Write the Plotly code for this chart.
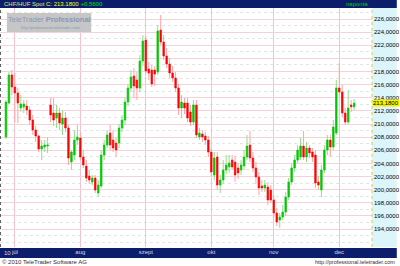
import plotly.graph_objects as go
import pandas as pd

# ---- data (CHF/HUF daily spot) ----
START_DATE = "2010-06-28"
END_DATE = "2010-12-08"
dates = pd.bdate_range(START_DATE, END_DATE)

open_ = [208.02, 213.20, 217.47, 215.64, 214.73, 212.44, 212.59, 212.74, 212.13, 210.61,
         209.09, 208.17, 206.19, 206.50, 206.65, 212.90, 211.68, 210.91, 211.68, 209.99,
         210.91, 209.39, 204.21, 205.28, 207.56, 207.87, 204.97, 203.60, 202.08, 201.16,
         201.77, 199.49, 200.55, 205.28, 206.80, 208.63, 207.56, 207.10, 207.10, 209.39,
         210.61, 213.35, 215.49, 217.31, 216.70, 215.49, 219.60, 222.80, 218.38, 218.23,
         218.23, 217.92, 224.32, 222.50, 220.36, 219.14, 217.77, 217.01, 215.49, 212.44,
         213.20, 213.20, 211.83, 210.30, 212.90, 208.02, 208.48, 208.17, 207.56, 205.73,
         202.23, 204.97, 200.70, 201.47, 202.99, 203.45, 204.51, 204.21, 203.30, 202.99,
         203.60, 204.97, 206.80, 204.82, 203.30, 201.93, 200.55, 200.25, 200.40, 199.94,
         198.42, 196.43, 195.37, 195.83, 196.59, 198.87, 201.16, 203.30, 204.51, 204.97,
         206.65, 204.97, 206.34, 205.73, 205.28, 201.16, 199.94, 202.99, 206.04, 207.56,
         206.50, 208.63, 215.49, 214.88, 211.68, 210.30, 212.90, 212.62]
high = [213.66, 217.92, 218.23, 217.77, 215.49, 214.42, 213.66, 213.66, 212.74, 211.37,
        209.70, 208.32, 207.56, 207.56, 208.02, 213.97, 213.97, 212.90, 212.44, 212.13,
        211.83, 209.85, 206.04, 209.09, 209.85, 208.78, 206.04, 204.51, 202.99, 202.23,
        202.23, 201.47, 206.04, 207.56, 209.09, 209.85, 209.09, 207.87, 210.00, 211.37,
        213.97, 216.10, 218.23, 218.53, 217.92, 220.51, 223.56, 223.41, 219.45, 218.99,
        218.84, 225.09, 226.61, 223.56, 221.58, 220.06, 218.84, 217.92, 216.10, 214.42,
        213.97, 213.97, 212.90, 213.66, 213.66, 209.39, 209.09, 208.78, 208.17, 206.34,
        205.73, 205.73, 202.23, 204.51, 205.28, 205.28, 205.28, 205.13, 204.06, 204.51,
        206.04, 208.32, 208.93, 205.73, 204.21, 202.69, 201.47, 201.47, 201.16, 200.70,
        199.18, 197.20, 196.43, 197.66, 199.64, 201.77, 203.91, 205.28, 206.80, 207.87,
        208.93, 207.26, 206.80, 206.34, 206.04, 202.08, 203.75, 206.80, 208.32, 208.32,
        210.61, 216.70, 219.30, 215.94, 212.44, 215.18, 213.66, 213.81]
low = [207.71, 213.05, 214.42, 210.30, 210.15, 211.83, 211.68, 211.37, 209.85, 208.32,
       207.26, 205.73, 204.51, 205.73, 205.58, 210.30, 209.70, 209.39, 209.09, 208.32,
       208.78, 203.75, 202.99, 204.51, 206.80, 204.51, 203.30, 201.16, 200.86, 200.70,
       199.49, 198.87, 200.25, 204.51, 206.34, 206.04, 205.73, 204.97, 206.34, 208.78,
       209.85, 212.74, 214.88, 213.97, 213.66, 214.88, 218.84, 217.62, 216.70, 215.64,
       215.79, 217.47, 222.04, 219.75, 218.53, 217.01, 216.40, 214.88, 211.37, 210.91,
       211.52, 210.30, 209.70, 209.85, 207.87, 207.56, 207.26, 206.80, 204.97, 202.08,
       201.47, 199.94, 199.49, 200.86, 202.38, 202.58, 202.99, 201.16, 201.62, 202.23,
       202.99, 204.51, 204.21, 202.69, 200.86, 199.18, 199.64, 199.64, 197.66, 197.96,
       195.67, 194.46, 194.15, 195.37, 196.02, 198.42, 200.70, 202.69, 204.06, 204.51,
       204.51, 204.21, 204.82, 204.21, 200.25, 199.94, 198.87, 202.53, 205.28, 204.97,
       206.04, 208.32, 214.42, 211.07, 209.85, 210.00, 211.83, 212.13]
close = [213.35, 217.47, 215.64, 214.73, 213.20, 213.05, 213.05, 212.13, 210.61, 209.09,
         208.17, 206.19, 206.65, 206.80, 206.80, 211.37, 210.61, 211.68, 210.15, 210.91,
         209.39, 204.82, 205.73, 207.56, 208.02, 204.97, 203.75, 201.77, 201.47, 201.77,
         199.94, 200.70, 205.28, 206.80, 208.32, 206.80, 206.34, 206.04, 209.39, 210.61,
         213.35, 215.49, 217.16, 215.79, 215.49, 219.60, 222.65, 218.08, 217.77, 216.10,
         217.62, 224.17, 222.50, 220.36, 219.14, 217.77, 217.01, 215.49, 212.44, 213.35,
         212.44, 210.91, 210.30, 212.90, 208.32, 208.63, 208.02, 207.56, 205.73, 202.69,
         204.82, 200.70, 201.47, 202.99, 203.75, 204.06, 203.45, 202.23, 202.54, 203.75,
         204.97, 206.65, 204.82, 203.30, 201.93, 200.25, 200.25, 200.70, 198.42, 198.42,
         196.43, 195.06, 195.83, 196.59, 198.87, 201.16, 203.30, 204.51, 206.04, 206.65,
         204.97, 206.34, 205.58, 204.97, 201.01, 200.70, 202.99, 206.04, 207.56, 206.50,
         209.54, 215.49, 214.88, 211.68, 210.30, 212.44, 212.62, 213.18]

month_ticks = ["2010-07-01", "2010-08-02", "2010-09-01", "2010-10-01", "2010-11-01", "2010-12-01"]
month_labels = ["júl", "aug", "szept", "okt", "nov", "dec"]
y_ticks = list(range(194, 227, 2))
last_close = close[-1]
change = 0.56

# ---- layout geometry ----
W, H = 400, 266
L, R, T, B = 0, 25, 8, 19
PW, PH = W - L - R, H - T - B

def px(x):
    return (x - L) / PW

def py(y):
    return 1 - (y - T) / PH

NAVY = "#0b1d6b"
GREEN = "#00c800"
RED = "#ff0000"
GREEN_L = "#8fe08f"
RED_L = "#ffa4a4"

body_hi = [max(o, c) for o, c in zip(open_, close)]
body_lo = [min(o, c) for o, c in zip(open_, close)]

fig = go.Figure()
# wicks (pale)
fig.add_trace(go.Candlestick(
    x=dates, open=open_, high=high, low=low, close=close,
    increasing=dict(line=dict(color=GREEN_L, width=1), fillcolor=GREEN_L),
    decreasing=dict(line=dict(color=RED_L, width=1), fillcolor=RED_L),
    whiskerwidth=0, hoverinfo="skip", showlegend=False))
# bodies (bright)
fig.add_trace(go.Candlestick(
    x=dates, open=open_, high=body_hi, low=body_lo, close=close,
    increasing=dict(line=dict(color=GREEN, width=0.5), fillcolor=GREEN),
    decreasing=dict(line=dict(color=RED, width=0.5), fillcolor=RED),
    whiskerwidth=0, showlegend=False))

shapes = [
    # title band
    dict(type="rect", xref="paper", yref="paper", x0=px(0), x1=px(W), y0=py(T), y1=py(0),
         fillcolor=NAVY, line=dict(width=0), layer="below"),
    # right axis panel
    dict(type="rect", xref="paper", yref="paper", x0=1, x1=px(W), y0=0, y1=1,
         fillcolor="#dcf5fb", line=dict(width=0), layer="below"),
    # x-axis band
    dict(type="rect", xref="paper", yref="paper", x0=px(0), x1=px(W), y0=py(258), y1=py(248),
         fillcolor=NAVY, line=dict(width=0), layer="below"),
    # yellow separator
    dict(type="line", xref="paper", yref="paper", x0=1, x1=1, y0=0, y1=1,
         line=dict(color="#e6c830", width=1, dash="dot")),
    # left dotted edge
    dict(type="line", xref="paper", yref="paper", x0=px(0.5), x1=px(0.5), y0=0, y1=1,
         line=dict(color="#606060", width=1, dash="dot")),
    # watermark box
    dict(type="rect", xref="paper", yref="paper", x0=px(7), x1=px(92), y0=py(32), y1=py(13),
         fillcolor="#c6c6c6", line=dict(width=0), layer="above"),
]

FONT = "Liberation Sans, Arial, sans-serif"
annotations = [
    dict(xref="paper", yref="paper", x=px(2), y=py(4), xanchor="left", yanchor="middle",
         showarrow=False, font=dict(family=FONT, size=6),
         text=("<span style='color:#e8e870'>CHF/HUF Spot</span> "
               f"<span style='color:#ffff00'>C: {last_close:.4f}</span> "
               f"<span style='color:#00e000'>+{change:.4f}</span>")),
    dict(xref="paper", yref="paper", x=px(373), y=py(4), xanchor="right", yanchor="middle",
         showarrow=False, font=dict(family=FONT, size=6, color="#00d000"), text="naponta"),
    dict(xref="paper", yref="paper", x=px(49.5), y=py(19.5), xanchor="center", yanchor="middle",
         showarrow=False, font=dict(family=FONT, size=7.5, color="#8797b8"),
         text="TeleTrader <b>Professional</b>"),
    dict(xref="paper", yref="paper", x=px(51), y=py(27.5), xanchor="center", yanchor="middle",
         showarrow=False, font=dict(family=FONT, size=4, color="#8797b8"),
         text="http://professional.teletrader.com/"),
    dict(xref="paper", yref="paper", x=px(2), y=py(253), xanchor="left", yanchor="middle",
         showarrow=False, font=dict(family=FONT, size=6, color="#d8d8e0"), text="10"),
    dict(xref="paper", yref="paper", x=px(0), y=py(262), xanchor="left", yanchor="middle",
         showarrow=False, font=dict(family=FONT, size=6, color="#303030"),
         text="© 2010 TeleTrader Software AG"),
    dict(xref="paper", yref="paper", x=px(400), y=py(262), xanchor="right", yanchor="middle",
         showarrow=False, font=dict(family=FONT, size=5.5, color="#303030"),
         text="http://professional.teletrader.com"),
    dict(xref="paper", yref="y", x=1, y=last_close, xanchor="left", yanchor="middle",
         showarrow=False, font=dict(family=FONT, size=6, color="#000000"),
         bgcolor="#f4f000", borderpad=0,
         text=f"{last_close:.4f}".replace(".", ",")),
]

fig.update_layout(
    width=W, height=H,
    margin=dict(l=L, r=R, t=T, b=B, pad=0),
    paper_bgcolor="white", plot_bgcolor="white",
    separators=", ",
    shapes=shapes, annotations=annotations,
    showlegend=False,
    xaxis=dict(
        type="date",
        range=["2010-06-24", "2010-12-16"],
        rangebreaks=[dict(bounds=["sat", "mon"])],
        rangeslider=dict(visible=False),
        tickvals=month_ticks, ticktext=month_labels,
        tickfont=dict(family=FONT, size=6, color="#d8d8e0"),
        ticks="", showgrid=True, gridcolor="#f2c4cf", gridwidth=1,
        zeroline=False, showline=False, fixedrange=True,
    ),
    yaxis=dict(
        side="right", range=[191.26, 227.68],
        tickvals=y_ticks, tickformat=".4f",
        tickfont=dict(family=FONT, size=6, color="#000000"),
        ticks="", ticklabelstandoff=1,
        showgrid=True, gridcolor="#f4d2da", gridwidth=1,
        minor=dict(dtick=1, showgrid=True, gridcolor="#e4e4e4", griddash="dot", gridwidth=1),
        zeroline=False, showline=False, fixedrange=True,
    ),
)

fig.write_html("out.html")
